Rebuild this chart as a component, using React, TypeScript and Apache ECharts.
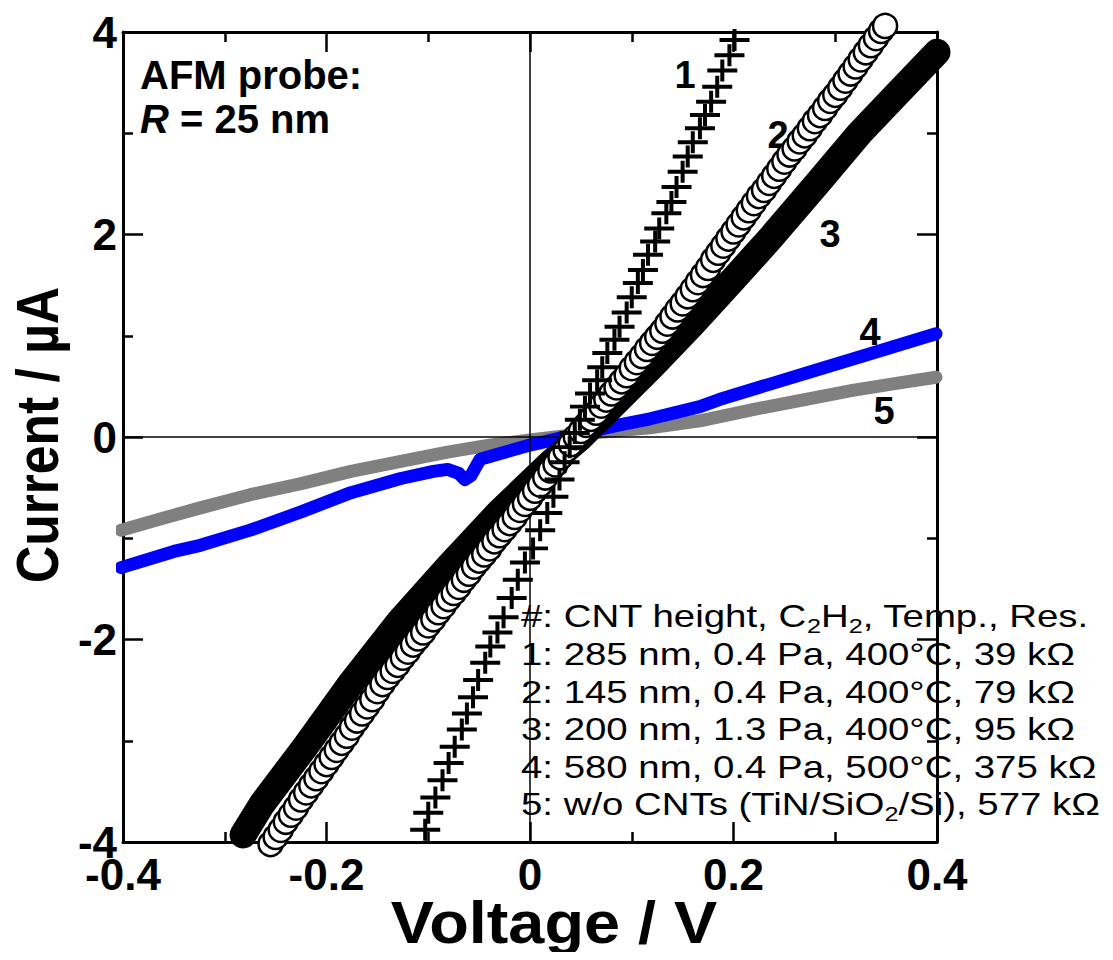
import React, { useEffect, useRef } from "react";
import * as echarts from "echarts";

const FONT = '"Liberation Sans", Arial, Helvetica, sans-serif';

// Axis ranges / ticks
const xRange = [-0.4, 0.4];
const xInterval = 0.2;
const yRange = [-4, 4];
const yInterval = 2;

const xTitle = "Voltage / V";
const yTitle = "Current / µA";

// Curve 1: 285 nm (crosses)
const curve1: number[][] = [
  [-0.103, -3.88], [-0.100, -3.71], [-0.093, -3.56], [-0.086, -3.39], [-0.080, -3.22],
  [-0.074, -3.06], [-0.067, -2.89], [-0.062, -2.73], [-0.056, -2.57], [-0.051, -2.40],
  [-0.044, -2.23], [-0.039, -2.07], [-0.032, -1.93], [-0.026, -1.78], [-0.018, -1.59],
  [-0.012, -1.41], [-0.005, -1.24], [0.003, -1.10], [0.010, -0.92], [0.017, -0.75],
  [0.023, -0.59], [0.029, -0.42], [0.034, -0.25], [0.039, -0.10], [0.044, 0.04],
  [0.049, 0.17], [0.054, 0.30], [0.059, 0.43], [0.066, 0.56], [0.071, 0.69],
  [0.076, 0.83], [0.083, 0.96], [0.088, 1.09], [0.095, 1.23], [0.100, 1.38],
  [0.106, 1.52], [0.111, 1.65], [0.116, 1.80], [0.123, 1.93], [0.127, 2.06],
  [0.134, 2.21], [0.139, 2.32], [0.144, 2.47], [0.150, 2.62], [0.155, 2.77],
  [0.160, 2.91], [0.167, 3.05], [0.172, 3.18], [0.178, 3.31], [0.184, 3.46],
  [0.189, 3.62], [0.196, 3.77], [0.201, 3.92],
];

// Curve 2: 145 nm (open circles)
const curve2: number[][] = [
  [-0.255, -4.02], [-0.250, -3.95], [-0.245, -3.88], [-0.240, -3.80], [-0.235, -3.73],
  [-0.230, -3.66], [-0.225, -3.58], [-0.220, -3.51], [-0.215, -3.44], [-0.210, -3.37],
  [-0.205, -3.30], [-0.200, -3.23], [-0.195, -3.16], [-0.190, -3.09], [-0.185, -3.02],
  [-0.180, -2.95], [-0.175, -2.87], [-0.170, -2.80], [-0.165, -2.73], [-0.160, -2.66],
  [-0.155, -2.59], [-0.150, -2.51], [-0.145, -2.44], [-0.140, -2.37], [-0.135, -2.31],
  [-0.130, -2.25], [-0.125, -2.18], [-0.120, -2.12], [-0.115, -2.05], [-0.110, -1.99],
  [-0.105, -1.93], [-0.100, -1.86], [-0.095, -1.80], [-0.090, -1.73], [-0.085, -1.67],
  [-0.080, -1.60], [-0.075, -1.54], [-0.070, -1.48], [-0.065, -1.41], [-0.060, -1.35],
  [-0.055, -1.28], [-0.050, -1.22], [-0.045, -1.16], [-0.040, -1.10], [-0.035, -1.03],
  [-0.030, -0.97], [-0.025, -0.91], [-0.020, -0.85], [-0.015, -0.79], [-0.010, -0.72],
  [-0.005, -0.66], [0.000, -0.60], [0.005, -0.53], [0.010, -0.47], [0.015, -0.40],
  [0.020, -0.33], [0.025, -0.27], [0.030, -0.20], [0.035, -0.13], [0.040, -0.07],
  [0.045, 0.00], [0.050, 0.06], [0.055, 0.12], [0.060, 0.18], [0.065, 0.24],
  [0.070, 0.31], [0.075, 0.37], [0.080, 0.43], [0.085, 0.49], [0.090, 0.55],
  [0.095, 0.61], [0.100, 0.68], [0.105, 0.74], [0.110, 0.80], [0.115, 0.87],
  [0.120, 0.93], [0.125, 0.99], [0.130, 1.05], [0.135, 1.12], [0.140, 1.19],
  [0.145, 1.26], [0.150, 1.32], [0.155, 1.39], [0.160, 1.46], [0.165, 1.53],
  [0.170, 1.60], [0.175, 1.67], [0.180, 1.75], [0.185, 1.82], [0.190, 1.89],
  [0.195, 1.96], [0.200, 2.03], [0.205, 2.10], [0.210, 2.17], [0.215, 2.24],
  [0.220, 2.31], [0.225, 2.38], [0.230, 2.44], [0.235, 2.51], [0.240, 2.58],
  [0.245, 2.65], [0.250, 2.72], [0.255, 2.79], [0.260, 2.85], [0.265, 2.92],
  [0.270, 2.98], [0.275, 3.05], [0.280, 3.12], [0.285, 3.18], [0.290, 3.25],
  [0.295, 3.32], [0.300, 3.38], [0.305, 3.45], [0.310, 3.52], [0.315, 3.59],
  [0.320, 3.66], [0.325, 3.73], [0.330, 3.80], [0.335, 3.87], [0.340, 3.94],
  [0.345, 4.01], [0.349, 4.06],
];

// Curve 3: 200 nm (filled, black band)
const curve3: number[][] = [
  [-0.282, -3.93], [-0.263, -3.62], [-0.221, -3.06], [-0.175, -2.42], [-0.129, -1.83],
  [-0.080, -1.28], [-0.030, -0.74], [0.020, -0.26], [0.050, 0.00], [0.076, 0.26],
  [0.120, 0.70], [0.160, 1.12], [0.200, 1.56], [0.236, 1.96], [0.282, 2.50],
  [0.324, 3.00], [0.360, 3.38], [0.400, 3.80],
];

// Curve 4: 580 nm (blue)
const curve4: number[][] = [
  [-0.402, -1.29], [-0.350, -1.13], [-0.324, -1.07], [-0.275, -0.92], [-0.225, -0.74],
  [-0.176, -0.55], [-0.127, -0.41], [-0.095, -0.34], [-0.081, -0.32], [-0.070, -0.36],
  [-0.064, -0.42], [-0.058, -0.38], [-0.049, -0.22], [-0.025, -0.15], [0.000, -0.08],
  [0.052, 0.04], [0.088, 0.12], [0.118, 0.18], [0.167, 0.30], [0.186, 0.37],
  [0.235, 0.52], [0.284, 0.67], [0.340, 0.84], [0.399, 1.02],
];

// Curve 5: w/o CNTs (gray)
const curve5: number[][] = [
  [-0.402, -0.92], [-0.360, -0.80], [-0.324, -0.70], [-0.275, -0.57], [-0.225, -0.46],
  [-0.176, -0.34], [-0.127, -0.24], [-0.081, -0.15], [-0.040, -0.08], [0.000, -0.03],
  [0.050, 0.03], [0.118, 0.09], [0.167, 0.16], [0.219, 0.27], [0.270, 0.37],
  [0.317, 0.46], [0.360, 0.53], [0.399, 0.59],
];

const curveLabels = ["1", "2", "3", "4", "5"];
const curveLabelPos = [
  [685, 75], [778, 135], [830, 234], [870, 332], [884, 411],
];

const legendLines = [
  "#: CNT height, C{s|2}H{s|2}, Temp., Res.",
  "1: 285 nm, 0.4 Pa, 400°C, 39 kΩ",
  "2: 145 nm, 0.4 Pa, 400°C, 79 kΩ",
  "3: 200 nm, 1.3 Pa, 400°C, 95 kΩ",
  "4: 580 nm, 0.4 Pa, 500°C, 375 kΩ",
  "5: w/o CNTs (TiN/SiO{s|2}/Si), 577 kΩ",
];

const probeLines = ["AFM probe:", "{i|R} = 25 nm"];

const CROSS = "path://M13,0h4v9h13v4h-13v9h-4v-9h-13v-4h13z";

function makeXAxis(pos: "bottom" | "top", labels: boolean) {
  return {
    type: "value",
    position: pos,
    min: xRange[0],
    max: xRange[1],
    interval: xInterval,
    axisLine: { show: true, onZero: false, lineStyle: { color: "#000", width: 3 } },
    axisTick: { show: true, inside: true, length: 20, lineStyle: { color: "#000", width: 2.5 } },
    minorTick: { show: true, splitNumber: 2, length: 10, lineStyle: { color: "#000", width: 2.5 } },
    splitLine: { show: false },
    minorSplitLine: { show: false },
    axisLabel: {
      show: labels,
      color: "#000",
      fontSize: 44,
      fontWeight: "bold",
      fontFamily: FONT,
      margin: 10,
    },
  };
}

function makeYAxis(pos: "left" | "right", labels: boolean) {
  return {
    type: "value",
    position: pos,
    min: yRange[0],
    max: yRange[1],
    interval: yInterval,
    axisLine: { show: true, onZero: false, lineStyle: { color: "#000", width: 3 } },
    axisTick: { show: true, inside: true, length: 20, lineStyle: { color: "#000", width: 2.5 } },
    minorTick: { show: true, splitNumber: 2, length: 10, lineStyle: { color: "#000", width: 2.5 } },
    splitLine: { show: false },
    minorSplitLine: { show: false },
    axisLabel: {
      show: labels,
      color: "#000",
      fontSize: 44,
      fontWeight: "bold",
      fontFamily: FONT,
      margin: 6,
    },
  };
}

export default function App() {
  const ref = useRef<HTMLDivElement>(null);

  useEffect(() => {
    if (!ref.current) return;
    const chart = echarts.init(ref.current, undefined, { renderer: "svg" });

    const legendMiddles = [616, 654, 692, 729, 767, 804];

    const graphic: any[] = [];
    graphic.push({
      type: "text",
      x: 140,
      y: 75,
      silent: true,
      style: {
        text: probeLines[0],
        font: `bold 40px ${FONT}`,
        fill: "#000",
        textVerticalAlign: "middle",
      },
    });
    graphic.push({
      type: "text",
      x: 140,
      y: 119,
      silent: true,
      style: {
        text: probeLines[1],
        font: `bold 40px ${FONT}`,
        fill: "#000",
        textVerticalAlign: "middle",
        rich: {
          i: { font: `italic bold 40px ${FONT}`, fill: "#000" },
        },
      },
    });
    curveLabels.forEach((t, i) => {
      graphic.push({
        type: "text",
        x: curveLabelPos[i][0],
        y: curveLabelPos[i][1],
        silent: true,
        style: {
          text: t,
          font: `bold 38px ${FONT}`,
          fill: "#000",
          textAlign: "center",
          textVerticalAlign: "middle",
        },
      });
    });
    graphic.push({
      type: "group",
      x: 521,
      y: 0,
      scaleX: 1.2,
      silent: true,
      children: legendLines.map((t, i) => ({
        type: "text",
        x: 0,
        y: legendMiddles[i],
        style: {
          text: t,
          font: `32px ${FONT}`,
          lineHeight: 40,
          fill: "#000",
          textVerticalAlign: "middle",
          rich: {
            s: {
              font: `21px ${FONT}`,
              lineHeight: 22,
              verticalAlign: "bottom",
              fill: "#000",
            },
          },
        },
      })),
    });
    graphic.push({
      type: "text",
      x: 554,
      y: 922,
      scaleX: 1.08,
      silent: true,
      style: {
        text: xTitle,
        font: `bold 60px ${FONT}`,
        fill: "#000",
        textAlign: "center",
        textVerticalAlign: "middle",
      },
    });
    graphic.push({
      type: "text",
      x: 37,
      y: 435,
      rotation: Math.PI / 2,
      scaleX: 0.86,
      silent: true,
      style: {
        text: yTitle,
        font: `bold 60px ${FONT}`,
        fill: "#000",
        textAlign: "center",
        textVerticalAlign: "middle",
      },
    });

    const option: any = {
      animation: false,
      backgroundColor: "#fff",
      grid: { left: 123, right: 176, top: 32, bottom: 118, containLabel: false },
      xAxis: [makeXAxis("bottom", true), makeXAxis("top", false)],
      yAxis: [makeYAxis("left", true), makeYAxis("right", false)],
      series: [
        {
          type: "line",
          data: [],
          silent: true,
          z: 1,
          markLine: {
            silent: true,
            symbol: ["none", "none"],
            label: { show: false },
            lineStyle: { color: "#000", width: 1.5, type: "solid" },
            data: [{ xAxis: 0 }, { yAxis: 0 }],
          },
        },
        {
          name: "5",
          type: "line",
          data: curve5,
          showSymbol: false,
          silent: true,
          clip: false,
          z: 2,
          lineStyle: { color: "#808080", width: 13, cap: "round", join: "round" },
        },
        {
          name: "4",
          type: "line",
          data: curve4,
          showSymbol: false,
          silent: true,
          clip: false,
          z: 3,
          lineStyle: { color: "#0000ff", width: 13, cap: "round", join: "round" },
        },
        {
          name: "3",
          type: "line",
          data: curve3,
          showSymbol: false,
          silent: true,
          clip: false,
          z: 4,
          lineStyle: { color: "#000", width: 27, cap: "round", join: "round" },
        },
        {
          name: "2",
          type: "scatter",
          data: curve2,
          symbol: "circle",
          symbolSize: 24,
          silent: true,
          clip: false,
          z: 5,
          itemStyle: { color: "#fff", borderColor: "#000", borderWidth: 2.5, opacity: 1 },
        },
        {
          name: "1",
          type: "scatter",
          data: curve1,
          symbol: CROSS,
          symbolSize: [30, 22],
          silent: true,
          clip: false,
          z: 6,
          itemStyle: { color: "#000", opacity: 1 },
        },
      ],
      graphic,
    };

    chart.setOption(option);
    return () => chart.dispose();
  }, []);

  return <div ref={ref} style={{ width: 1113, height: 960, margin: -8 }} />;
}
